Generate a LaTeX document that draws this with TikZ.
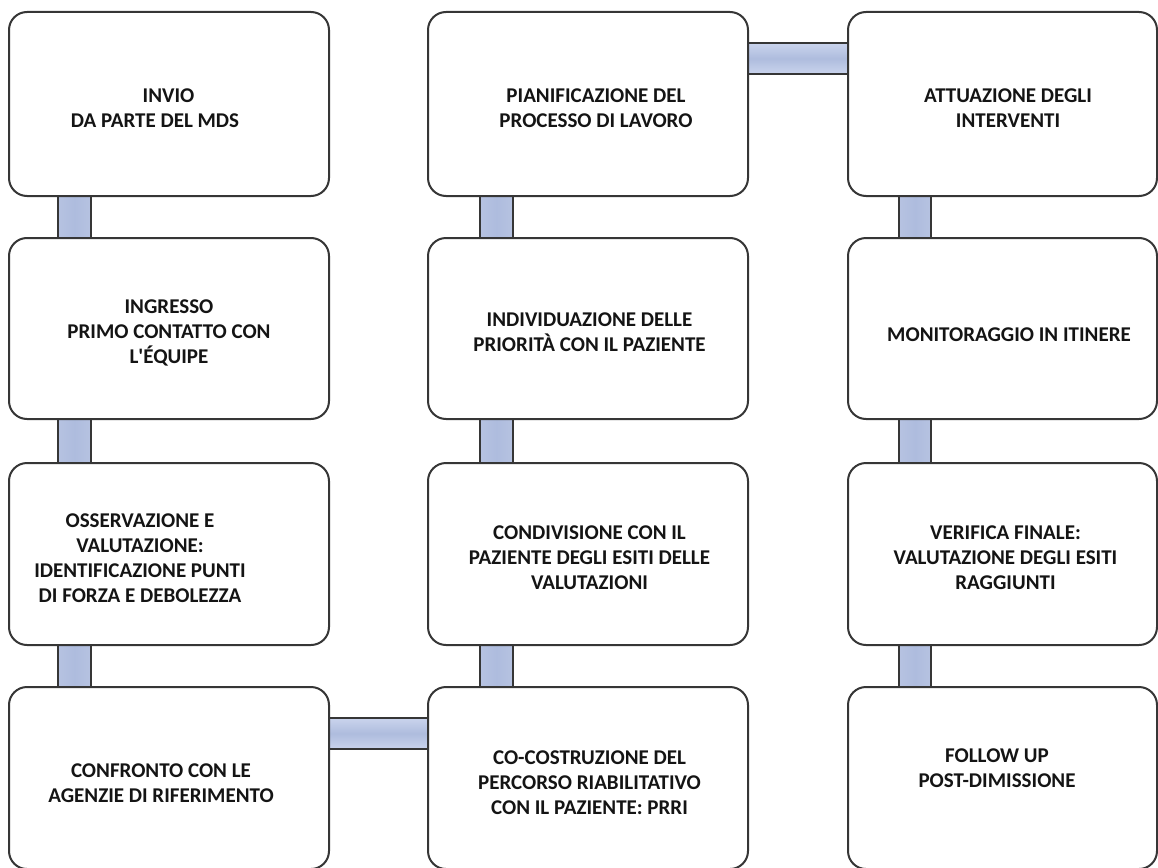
\documentclass[tikz,border=0pt]{standalone}
\usepackage{fontspec}
\setmainfont{Carlito}
\usetikzlibrary{calc,backgrounds}
\definecolor{edge}{HTML}{363636}
\definecolor{barfill}{RGB}{174,188,222}
\definecolor{barlight}{RGB}{202,212,237}
\tikzset{
  stage/.style 2 args={draw=edge, line width=2pt, rounded corners=18pt, fill=white,
    inner sep=0pt, outer sep=0pt, minimum width=#1, minimum height=#2},
  txt/.style={font=\bfseries\fontsize{21}{25}\selectfont, align=center, text=black!92, inner sep=0pt},
  vbar/.style={draw=edge, line width=1.8pt, left color=barfill!90!white, right color=barfill!90!white, middle color=barfill},
  hbar/.style={draw=edge, line width=1.8pt, top color=barlight, bottom color=barlight, middle color=barfill},
}
\begin{document}
\begin{tikzpicture}[x=1pt, y=-1pt]
\useasboundingbox (0,0) rectangle (1158,867);
\clip (0,0) rectangle (1158,867);
% boxes
\node[stage={320pt}{184pt}] (b11) at (169,104) {};
\node[stage={320pt}{181pt}] (b21) at (169,328.5) {};
\node[stage={320pt}{182pt}] (b31) at (169,554) {};
\node[stage={320pt}{182pt}] (b41) at (169,778) {};
\node[stage={320pt}{184pt}] (b12) at (588,104) {};
\node[stage={320pt}{181pt}] (b22) at (588,328.5) {};
\node[stage={320pt}{182pt}] (b32) at (588,554) {};
\node[stage={320pt}{182pt}] (b42) at (588,778) {};
\node[stage={309pt}{184pt}] (b13) at (1002.5,104) {};
\node[stage={309pt}{181pt}] (b23) at (1002.5,328.5) {};
\node[stage={309pt}{182pt}] (b33) at (1002.5,554) {};
\node[stage={309pt}{182pt}] (b43) at (1002.5,778) {};
% texts
\node[txt] (t11) at ($(b11.center)+(-14,4)$) {\hspace*{27pt}INVIO\\DA PARTE DEL MDS};
\node[txt] (t21) at ($(b21.center)+(0,4)$) {INGRESSO\\PRIMO CONTATTO CON\\L\textquotesingle ÉQUIPE};
\node[txt] (t31) at ($(b31.center)+(-29,4)$) {OSSERVAZIONE E\\VALUTAZIONE:\\IDENTIFICAZIONE PUNTI\\DI FORZA E DEBOLEZZA};
\node[txt] (t41) at ($(b41.center)+(-8,5)$) {CONFRONTO CON LE\\AGENZIE DI RIFERIMENTO};
\node[txt] (t12) at ($(b12.center)+(8,4)$) {PIANIFICAZIONE DEL\\PROCESSO DI LAVORO};
\node[txt] (t22) at ($(b22.center)+(1.5,4)$) {INDIVIDUAZIONE DELLE\\PRIORITÀ CON IL PAZIENTE};
\node[txt] (t32) at ($(b32.center)+(1.5,4)$) {CONDIVISIONE CON IL\\PAZIENTE DEGLI ESITI DELLE\\VALUTAZIONI};
\node[txt] (t42) at ($(b42.center)+(1.5,5)$) {CO-COSTRUZIONE DEL\\PERCORSO RIABILITATIVO\\CON IL PAZIENTE: PRRI};
\node[txt] (t13) at ($(b13.center)+(5.5,4)$) {ATTUAZIONE DEGLI\\INTERVENTI};
\node[txt] (t23) at ($(b23.center)+(6.5,6)$) {MONITORAGGIO IN ITINERE};
\node[txt] (t33) at ($(b33.center)+(3,4)$) {VERIFICA FINALE:\\VALUTAZIONE DEGLI ESITI\\RAGGIUNTI};
\node[txt] (t43) at ($(b43.center)+(-5.5,-10)$) {FOLLOW UP\\POST-DIMISSIONE};
% connectors
\begin{scope}[on background layer]
\draw[vbar] ($(b11.south west)+(49,0)$) rectangle ($(b21.north west)+(82,0)$);
\draw[vbar] ($(b21.south west)+(49,0)$) rectangle ($(b31.north west)+(82,0)$);
\draw[vbar] ($(b31.south west)+(49,0)$) rectangle ($(b41.north west)+(82,0)$);
\draw[hbar] ($(b41.north east)+(0,31)$) rectangle ($(b42.north west)+(0,62)$);
\draw[vbar] ($(b32.south west)+(52,0)$) rectangle ($(b42.north west)+(85,0)$);
\draw[vbar] ($(b22.south west)+(52,0)$) rectangle ($(b32.north west)+(85,0)$);
\draw[vbar] ($(b12.south west)+(52,0)$) rectangle ($(b22.north west)+(85,0)$);
\draw[hbar] ($(b12.north east)+(0,31)$) rectangle ($(b13.north west)+(0,62)$);
\draw[vbar] ($(b13.south west)+(51,0)$) rectangle ($(b23.north west)+(83,0)$);
\draw[vbar] ($(b23.south west)+(51,0)$) rectangle ($(b33.north west)+(83,0)$);
\draw[vbar] ($(b33.south west)+(51,0)$) rectangle ($(b43.north west)+(83,0)$);
\end{scope}
\end{tikzpicture}
\end{document}
